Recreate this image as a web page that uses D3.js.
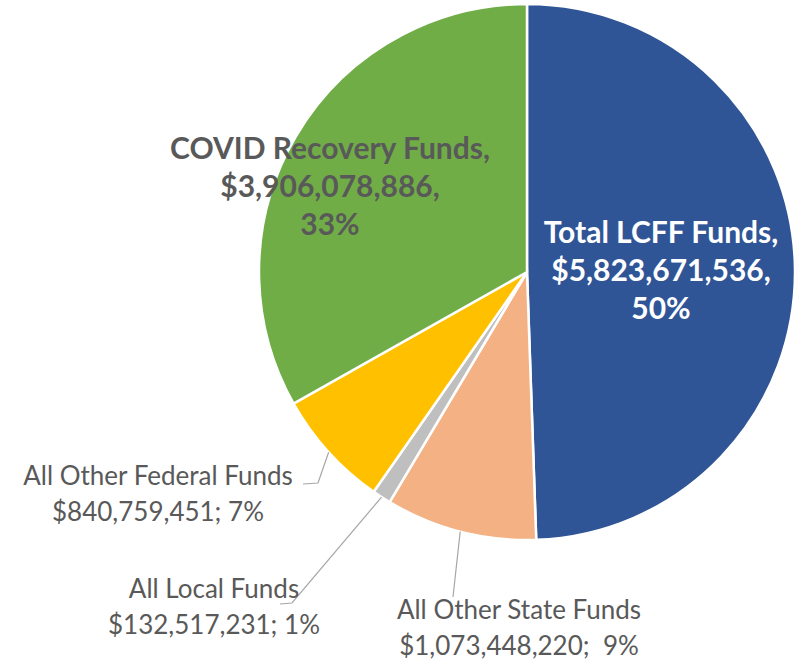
<!DOCTYPE html>
<html>
<head>
<meta charset="utf-8">
<script src="https://cdn.jsdelivr.net/npm/d3@7"></script>
<style>
  body { margin: 0; background: #fff; }
  svg { display: block; font-family: Lato, "Open Sans", sans-serif; }
</style>
</head>
<body>
<svg id="chart" width="801" height="664"></svg>
<script>
// fund sources, clockwise from 12 o'clock
var names = ["Total LCFF Funds", "All Other State Funds", "All Local Funds", "All Other Federal Funds", "COVID Recovery Funds"];
var amounts = [5823671536, 1073448220, 132517231, 840759451, 3906078886];
var pctLabels = ["50%", "9%", "1%", "7%", "33%"];
var colors = ["#2f5597", "#f4b183", "#bfbfbf", "#ffc000", "#70ad47"];

var width = 801, height = 664;
var cx = 527, cy = 272, r = 268;

var svg = d3.select("#chart");
var g = svg.append("g").attr("transform", "translate(" + cx + "," + cy + ")");

var data = names.map(function(d, i) { return {name: d, value: amounts[i], pct: pctLabels[i], col: colors[i]}; });

var pie = d3.pie().sort(null).value(d => d.value);
var arcs = pie(data);
var arc = d3.arc().innerRadius(0).outerRadius(r);

g.selectAll("path.slice")
  .data(arcs)
  .enter().append("path")
  .attr("class", "slice")
  .attr("d", arc)
  .style("fill", d => d.data.col)
  .style("stroke", "#fff")
  .style("stroke-width", 2.5);

var fmt = d3.format("$,");

// big labels inside the two large slices
var inside = [
  {i: 0, x: 661 - cx, y: 232 - cy, fill: "#fff"},
  {i: 4, x: 330 - cx, y: 148 - cy, fill: "#595959"}
];
inside.forEach(function(o) {
  var d = arcs[o.i].data;
  var lines = [d.name + ",", fmt(d.value) + ",", d.pct];
  var t = g.append("text")
    .attr("text-anchor", "middle")
    .style("font-size", "30px")
    .style("font-weight", "bold")
    .style("fill", o.fill);
  lines.forEach(function(l, k) {
    t.append("tspan").attr("x", o.x).attr("y", o.y + k * 38).attr("dy", "0.35em").text(l);
  });
});

// outside labels with leader lines
var outside = [
  {i: 3, lx: 158, ly: 476, pts: [[318, 483], [303, 484]], sep: "; "},
  {i: 2, lx: 214, ly: 589, pts: [[292, 603], [280, 604]], sep: "; "},
  {i: 1, lx: 519, ly: 610, pts: [[453, 597]], sep: ";  "}
];
outside.forEach(function(o) {
  var a = arcs[o.i];
  var mid = (a.startAngle + a.endAngle) / 2;
  var start = [Math.sin(mid) * r, -Math.cos(mid) * r];
  var pts = [start].concat(o.pts.map(p => [p[0] - cx, p[1] - cy]));
  g.append("path")
    .attr("d", d3.line()(pts))
    .style("fill", "none")
    .style("stroke", "#a6a6a6")
    .style("stroke-width", 1.2);
  var t = g.append("text")
    .attr("text-anchor", "middle")
    .style("font-size", "26px")
    .style("fill", "#595959");
  t.append("tspan").attr("x", o.lx - cx).attr("y", o.ly - cy).attr("dy", "0.35em").text(a.data.name);
  t.append("tspan").attr("x", o.lx - cx).attr("y", o.ly - cy + 36).attr("dy", "0.35em")
    .style("white-space", "pre").text(fmt(a.data.value) + o.sep + a.data.pct);
});
</script>
</body>
</html>
